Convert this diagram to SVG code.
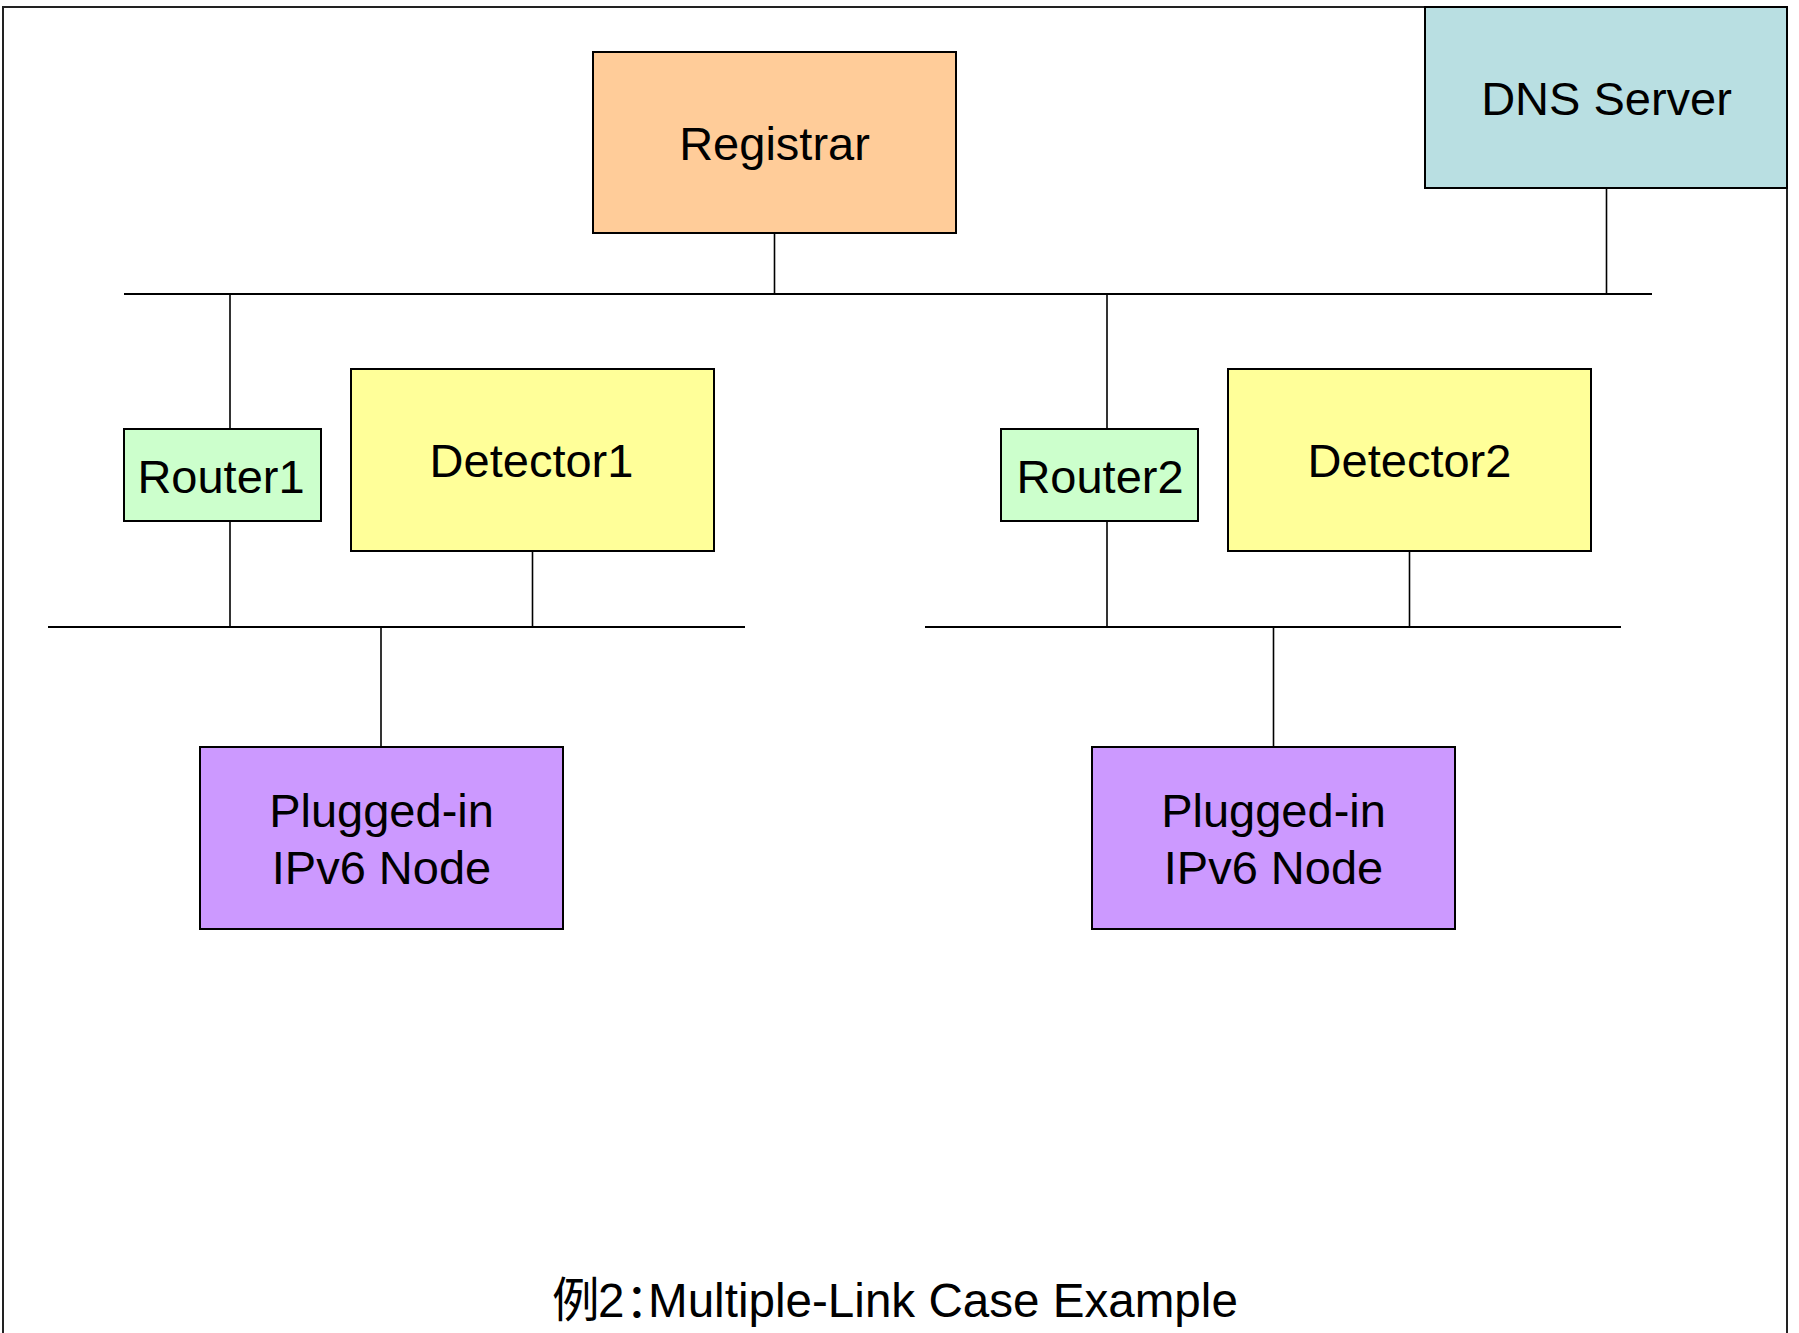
<svg xmlns="http://www.w3.org/2000/svg" width="1799" height="1333" viewBox="0 0 1799 1333">
<style>
  .box { stroke: #000; stroke-width: 2; }
  .lbl { font-family: "Liberation Sans", Arial, "Noto Sans CJK SC", sans-serif; font-size: 47px; fill: #000; text-anchor: middle; }
  .bus { stroke: #000; stroke-width: 2; fill: none; }
  .drop { stroke: #000; stroke-width: 1.6; fill: none; }
  .registrar { fill: #FFCC99; }
  .dns { fill: #B9DFE2; }
  .router { fill: #CCFFCC; }
  .detector { fill: #FFFF99; }
  .node { fill: #CC99FF; }
</style>
<rect width="1799" height="1333" fill="#FFFFFF"/>
<rect id="frame" x="3" y="7" width="1784" height="1345" fill="none" stroke="#222" stroke-width="2"/>

<g id="connectors">
  <line class="bus" x1="124" y1="294" x2="1652" y2="294"/>
  <line class="drop" x1="774.5" y1="233" x2="774.5" y2="294"/>
  <line class="drop" x1="1606.5" y1="188" x2="1606.5" y2="294"/>
  <line class="drop" x1="230" y1="294" x2="230" y2="429"/>
  <line class="drop" x1="1107" y1="294" x2="1107" y2="429"/>
  <line class="bus" x1="48" y1="627" x2="745" y2="627"/>
  <line class="drop" x1="230" y1="521" x2="230" y2="627"/>
  <line class="drop" x1="532.5" y1="551" x2="532.5" y2="627"/>
  <line class="drop" x1="381" y1="627" x2="381" y2="747"/>
  <line class="bus" x1="925" y1="627" x2="1621" y2="627"/>
  <line class="drop" x1="1107" y1="521" x2="1107" y2="627"/>
  <line class="drop" x1="1409.5" y1="551" x2="1409.5" y2="627"/>
  <line class="drop" x1="1273.5" y1="627" x2="1273.5" y2="747"/>
</g>

<g id="registrar">
  <rect class="box registrar" x="593" y="52" width="363" height="181"/>
  <text class="lbl" x="774.5" y="160">Registrar</text>
</g>
<g id="dns-server">
  <rect class="box dns" x="1425" y="7" width="362" height="181"/>
  <text class="lbl" x="1606.5" y="115">DNS Server</text>
</g>
<g id="router1">
  <rect class="box router" x="124" y="429" width="197" height="92"/>
  <text class="lbl" x="221" y="493">Router1</text>
</g>
<g id="detector1">
  <rect class="box detector" x="351" y="369" width="363" height="182"/>
  <text class="lbl" x="531.5" y="477">Detector1</text>
</g>
<g id="router2">
  <rect class="box router" x="1001" y="429" width="197" height="92"/>
  <text class="lbl" x="1100" y="493">Router2</text>
</g>
<g id="detector2">
  <rect class="box detector" x="1228" y="369" width="363" height="182"/>
  <text class="lbl" x="1409.5" y="477">Detector2</text>
</g>
<g id="plugged-in1">
  <rect class="box node" x="200" y="747" width="363" height="182"/>
  <text class="lbl" x="381.5" y="827">Plugged-in</text>
  <text class="lbl" x="381.5" y="884">IPv6 Node</text>
</g>
<g id="plugged-in2">
  <rect class="box node" x="1092" y="747" width="363" height="182"/>
  <text class="lbl" x="1273.5" y="827">Plugged-in</text>
  <text class="lbl" x="1273.5" y="884">IPv6 Node</text>
</g>

<g id="caption">
  <text x="552 598 625 648" y="1317" font-family="'Liberation Sans', Arial, 'Noto Sans CJK SC', sans-serif" font-size="47.6" fill="#000">例2：Multiple-Link Case Example</text>
</g>
</svg>
